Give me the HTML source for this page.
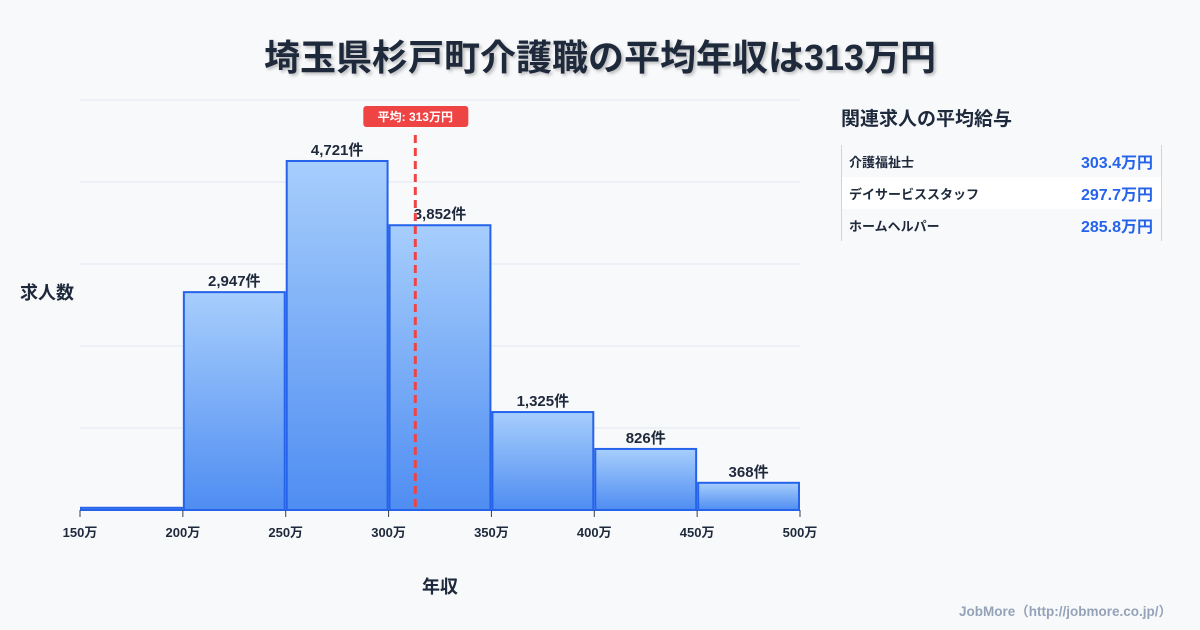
<!DOCTYPE html>
<html><head><meta charset="utf-8">
<style>
body{margin:0;width:1200px;height:630px;background:#f8f9fb;font-family:"Liberation Sans","Noto Sans CJK JP",sans-serif;overflow:hidden;position:relative;color:#1e293b}
.title{position:absolute;top:29px;left:0;width:1200px;text-align:center;font-size:36px;font-weight:bold;color:#1e293b;text-shadow:2px 2px 3px rgba(0,0,0,0.25)}
.side{position:absolute;left:841px;top:104px;font-size:19px;font-weight:bold}
.tbl{position:absolute;left:841px;top:145px;width:319px;border-left:1px solid #cbd5e1;border-right:1px solid #cbd5e1}
.row{height:32px;display:flex;justify-content:space-between;align-items:center;padding:0 8px 0 7px;font-size:13px;font-weight:bold}
.row span:last-child{color:#2563eb;font-size:16px}
.foot{position:absolute;right:28px;bottom:10px;font-size:13.5px;color:#94a3b8;font-weight:bold}
</style></head><body>
<div class="title">埼玉県杉戸町介護職の平均年収は313万円</div>
<svg id="chart" width="1200" height="630" style="position:absolute;left:0;top:0">
<defs><linearGradient id="g" x1="0" y1="0" x2="0" y2="1"><stop offset="0" stop-color="#a7cefc"/><stop offset="1" stop-color="#4f8df2"/></linearGradient></defs>
</svg>
<div class="side">関連求人の平均給与</div>
<div class="tbl">
<div class="row"><span>介護福祉士</span><span>303.4万円</span></div>
<div class="row" style="background:#fff"><span>デイサービススタッフ</span><span>297.7万円</span></div>
<div class="row"><span>ホームヘルパー</span><span>285.8万円</span></div>
</div>
<div class="foot">JobMore（http://jobmore.co.jp/）</div>
<script>
const binStarts=[150,200,250,300,350,400,450];
const counts=[30,2947,4721,3852,1325,826,368];
const labels=["","2,947件","4,721件","3,852件","1,325件","826件","368件"];
const xTicks=[150,200,250,300,350,400,450,500];
const meanValue=313;
const NS="http://www.w3.org/2000/svg";
const svg=document.getElementById('chart');
const x=v=>80+(v-150)*720/350;
const yMax=5546;
const y=v=>510-v*410/yMax;
function mk(t,a){const e=document.createElementNS(NS,t);for(const k in a)e.setAttribute(k,a[k]);svg.appendChild(e);return e;}
for(let i=0;i<=5;i++){const gl=mk('line',{x1:80,x2:800,y1:510-i*82,y2:510-i*82,stroke:'#e2e8f0','stroke-width':1});

}
binStarts.forEach((b,i)=>{
 const x0=x(b)+1,x1=x(b+50)-1,yt=y(counts[i]);
 const r=mk('rect',{x:x0,y:yt,width:x1-x0,height:510-yt,fill:'url(#g)',stroke:'#2563eb','stroke-width':2});
 
 
 if(labels[i]){const t=mk('text',{x:(x0+x1)/2,y:yt-6,'text-anchor':'middle','font-size':15,'font-weight':'bold',fill:'#1e293b'});t.textContent=labels[i];
 
 }
});
xTicks.forEach(v=>{
 const l=mk('line',{x1:x(v),x2:x(v),y1:510,y2:517,stroke:'#334155','stroke-width':1});
 
 
 const t=mk('text',{x:x(v),y:537,'text-anchor':'middle','font-size':13,'font-weight':'bold',fill:'#1e293b'});t.textContent=v+'万';
 
 
});
const ml=mk('line',{x1:x(meanValue),x2:x(meanValue),y1:135,y2:510,stroke:'#ef4444','stroke-width':3,'stroke-dasharray':'8,5'});


const mb=mk('rect',{x:x(meanValue)-52,y:106,width:105,height:21,rx:3,fill:'#ef4444'});


const mt=mk('text',{x:x(meanValue),y:121,'text-anchor':'middle','font-size':12,'font-weight':'bold',fill:'#fff'});mt.textContent='平均: '+meanValue+'万円';


const yt=mk('text',{x:20,y:299,'font-size':18,'font-weight':'bold',fill:'#1e293b'});yt.textContent='求人数';


const xt=mk('text',{x:440,y:593,'text-anchor':'middle','font-size':18,'font-weight':'bold',fill:'#1e293b'});xt.textContent='年収';


</script>
</body></html>
